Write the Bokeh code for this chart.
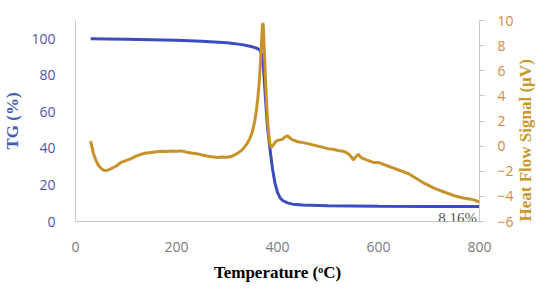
import math
from bokeh.plotting import figure
from bokeh.models import Range1d, LinearAxis, FixedTicker, Label
from bokeh.embed import file_html
from bokeh.resources import INLINE

# TG data (%)
tg_t = [30, 100, 200, 250, 300, 330, 350, 360, 365, 368, 372, 376, 380, 385, 390, 395,
        400, 405, 410, 420, 430, 450, 500, 600, 700, 800]
tg_v = [100, 99.8, 99.2, 98.7, 97.8, 96.8, 95.6, 94.7, 93.8, 92, 85, 68, 52, 40, 29, 21,
        16, 13, 11.5, 10.2, 9.5, 9.0, 8.6, 8.35, 8.25, 8.16]

# Heat flow data (µV)
hf_t = [30, 35, 40, 45, 50, 55, 60, 65, 70, 80, 90, 100, 110, 120, 130, 140, 150, 160, 170,
        180, 190, 200, 210, 220, 230, 240, 250, 260, 270, 280, 290, 300, 310, 320, 330, 340,
        345, 350, 355, 358, 361, 364, 366, 368, 370, 371, 372, 374, 376, 378, 380, 382, 385,
        388, 392, 396, 400, 405, 410, 415, 420, 425, 430, 440, 450, 460, 470, 480, 490, 500,
        510, 520, 530, 540, 545, 550, 555, 560, 565, 570, 580, 590, 600, 610, 620, 630, 640,
        650, 660, 670, 680, 690, 700, 710, 720, 730, 740, 750, 760, 770, 780, 790, 800]
hf_v = [0.4, -0.5, -1.1, -1.5, -1.75, -1.9, -1.95, -1.9, -1.8, -1.6, -1.3, -1.15, -1.0, -0.8,
        -0.65, -0.55, -0.5, -0.45, -0.4, -0.42, -0.38, -0.4, -0.38, -0.48, -0.55, -0.6, -0.7,
        -0.78, -0.85, -0.9, -0.86, -0.88, -0.8, -0.6, -0.3, 0.2, 0.6, 1.1, 2.0, 2.8, 3.8, 5.2,
        6.5, 8.0, 9.5, 9.8, 9.5, 7.5, 5.5, 3.8, 2.3, 1.2, 0.2, -0.1, 0.1, 0.35, 0.45, 0.5, 0.55,
        0.75, 0.8, 0.65, 0.5, 0.35, 0.28, 0.2, 0.1, 0.0, -0.1, -0.2, -0.25, -0.35, -0.4, -0.6,
        -0.8, -1.1, -0.85, -0.65, -0.9, -1.0, -1.15, -1.3, -1.3, -1.45, -1.6, -1.75, -1.9,
        -2.05, -2.2, -2.45, -2.7, -2.95, -3.15, -3.35, -3.5, -3.65, -3.8, -3.95, -4.05, -4.15,
        -4.2, -4.3, -4.45]

x_ticks = [0, 200, 400, 600, 800]
tg_ticks = [0, 20, 40, 60, 80, 100]
hf_ticks = [-6, -4, -2, 0, 2, 4, 6, 8, 10]

BLUE = "#3a4cc0"
ORANGE = "#c8922a"

p = figure(width=548, height=284, output_backend="svg", toolbar_location=None,
           x_range=Range1d(0, 800), y_range=Range1d(0, 110),
           min_border_left=75, min_border_right=69, min_border_top=20, min_border_bottom=61)
p.outline_line_color = None
p.xgrid.visible = False
p.ygrid.visible = False
p.extra_y_ranges = {"hf": Range1d(-6, 10)}

# x axis
xa = p.xaxis[0]
xa.ticker = FixedTicker(ticks=x_ticks)
xa.axis_line_color = "#c8c8c8"
xa.major_tick_line_color = None
xa.minor_tick_line_color = None
xa.major_label_text_color = "#7a7a7a"
xa.major_label_text_font = "Open Sans"
xa.major_label_text_font_size = "14px"
xa.major_label_standoff = 14
xa.axis_label = "Temperature (ᵒC)"
xa.axis_label_text_font = "Liberation Serif"
xa.axis_label_text_font_style = "bold"
xa.axis_label_text_font_size = "17px"
xa.axis_label_text_color = "black"
xa.axis_label_standoff = 8

# left axis
ya = p.yaxis[0]
ya.ticker = FixedTicker(ticks=tg_ticks)
ya.axis_line_color = "#c8c8c8"
ya.major_tick_line_color = None
ya.minor_tick_line_color = None
ya.major_label_text_color = "#4a58a8"
ya.major_label_text_font = "Open Sans"
ya.major_label_text_font_size = "14px"
ya.major_label_standoff = 14
ya.axis_label = "TG (%)"
ya.axis_label_text_font = "Liberation Serif"
ya.axis_label_text_font_style = "bold"
ya.axis_label_text_font_size = "17px"
ya.axis_label_text_color = "#3f5bb5"
ya.axis_label_standoff = 6

# right axis
ra = LinearAxis(y_range_name="hf", ticker=FixedTicker(ticks=hf_ticks))
ra.axis_line_color = "#c8c8c8"
ra.major_tick_line_color = "#c8c8c8"
ra.major_tick_out = 5
ra.major_tick_in = 0
ra.minor_tick_line_color = None
ra.major_label_text_color = "#d6893a"
ra.major_label_text_font = "Open Sans"
ra.major_label_text_font_size = "14px"
ra.major_label_standoff = 13
ra.axis_label = "Heat Flow Signal (µV)"
ra.axis_label_orientation = math.pi / 2
ra.axis_label_align = "start"
ra.axis_label_text_font = "Liberation Serif"
ra.axis_label_text_font_style = "bold"
ra.axis_label_text_font_size = "17px"
ra.axis_label_text_color = "#c8962a"
ra.axis_label_standoff = 9
p.add_layout(ra, "right")

p.line(tg_t, tg_v, line_color=BLUE, line_width=3)
p.line(hf_t, hf_v, line_color=ORANGE, line_width=3, y_range_name="hf")

p.add_layout(Label(x=795, y=6.5, text="8.16%", text_align="right", text_baseline="top",
                   text_font="Liberation Serif", text_font_size="15px", text_color="#555555"))

open("out.html", "w").write(file_html(p, INLINE))
